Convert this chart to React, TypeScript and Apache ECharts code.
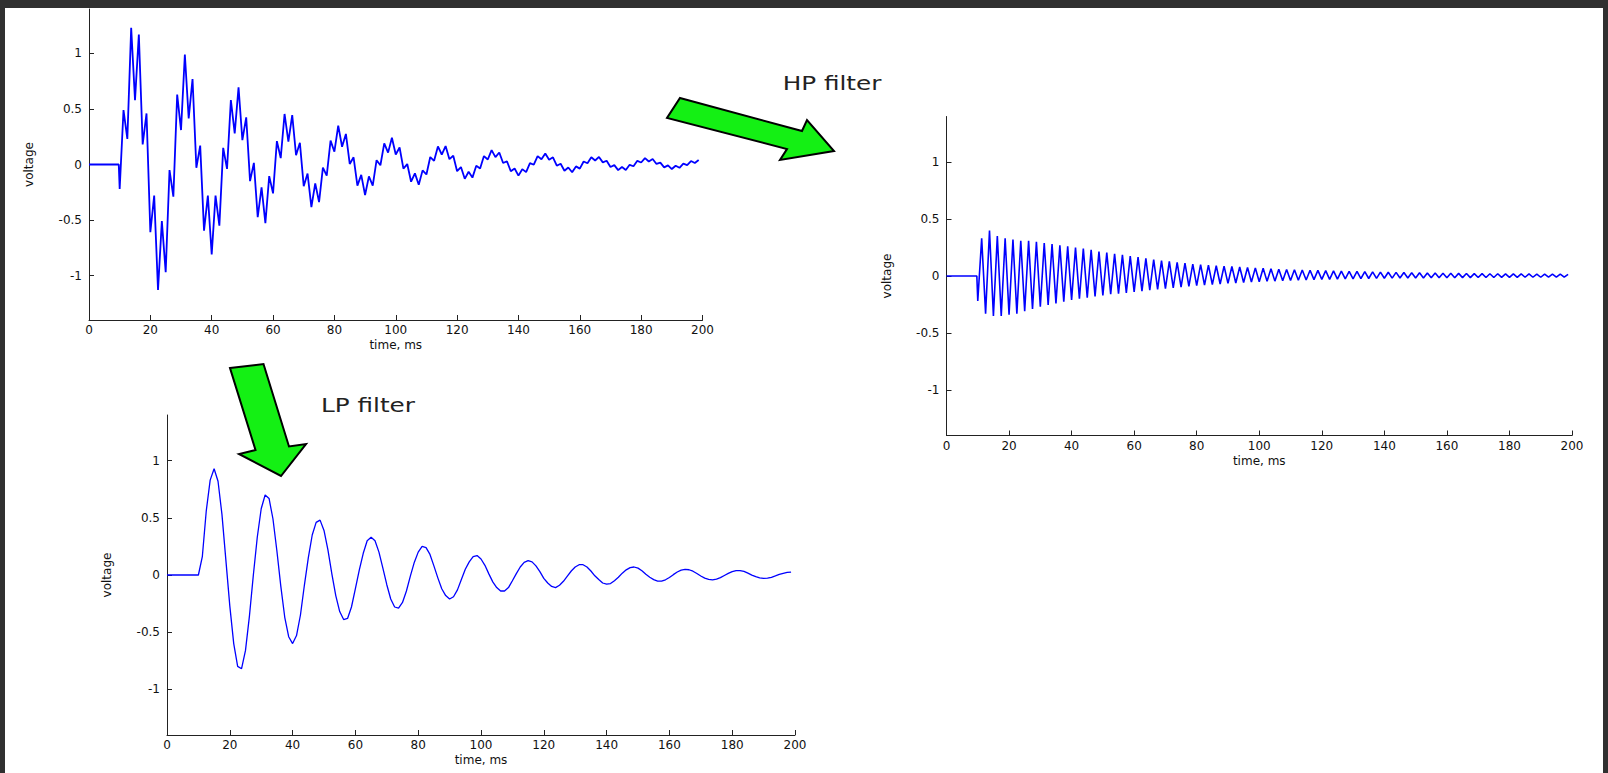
import React, { useEffect, useRef } from "react";
import * as echarts from "echarts";

// ---- data ----
const signalStartMs = 10; // signal begins at t = 10 ms
const sampleStepMs = 1.25; // one half-period of the high-frequency part

const xTickLabels = [0, 20, 40, 60, 80, 100, 120, 140, 160, 180, 200];
const yTickLabels = [-1, -0.5, 0, 0.5, 1];

// Low-pass filtered signal (values every 1.25 ms from t = 10 ms)
const lpValues = [
  0, 0.16, 0.56, 0.83, 0.93, 0.82, 0.53, 0.13, -0.27, -0.6, -0.8, -0.82, -0.66, -0.36, 0.0, 0.33,
  0.58, 0.7, 0.67, 0.49, 0.21, -0.1, -0.37, -0.54, -0.6, -0.53, -0.35, -0.09, 0.15, 0.35, 0.46, 0.48,
  0.39, 0.22, 0.01, -0.18, -0.32, -0.39, -0.38, -0.28, -0.12, 0.045, 0.19, 0.3, 0.33, 0.3, 0.2, 0.06,
  -0.085, -0.21, -0.28, -0.29, -0.24, -0.14, -0.01, 0.11, 0.2, 0.25, 0.24, 0.18, 0.08, -0.025, -0.12,
  -0.18, -0.21, -0.19, -0.13, -0.04, 0.05, 0.115, 0.16, 0.17, 0.14, 0.085, 0.01, -0.06, -0.11, -0.14,
  -0.14, -0.11, -0.05, 0.012, 0.07, 0.11, 0.125, 0.115, 0.08, 0.03, -0.03, -0.07, -0.1, -0.11, -0.09,
  -0.055, -0.01, 0.035, 0.07, 0.09, 0.09, 0.07, 0.035, -0.007, -0.04, -0.07, -0.08, -0.075, -0.05,
  -0.02, 0.016, 0.045, 0.065, 0.07, 0.06, 0.037, 0.006, -0.02, -0.04, -0.053, -0.054, -0.042, -0.022,
  0.003, 0.026, 0.042, 0.05, 0.046, 0.033, 0.013, -0.009, -0.027, -0.038, -0.042, -0.036, -0.023,
  -0.004, 0.014, 0.03, 0.039, 0.039, 0.031, 0.016, -0.001, -0.015, -0.025, -0.03, -0.028, -0.02,
  -0.008, 0.005, 0.015, 0.023, 0.025,
];

// High-pass filtered signal: troughs (t = 10, 12.5, ...) and peaks (t = 11.25, 13.75, ...)
const hpTroughs = [
  -0.22, -0.33, -0.35, -0.35, -0.34, -0.33, -0.31, -0.29, -0.27, -0.255, -0.24, -0.225, -0.21, -0.2,
  -0.19, -0.18, -0.17, -0.16, -0.155, -0.148, -0.14, -0.132, -0.125, -0.117, -0.11, -0.104, -0.098,
  -0.091, -0.085, -0.08, -0.075, -0.07, -0.065, -0.061, -0.057, -0.053, -0.05, -0.047, -0.045, -0.042,
  -0.04, -0.037, -0.035, -0.032, -0.03, -0.029, -0.028, -0.026, -0.025, -0.024, -0.022, -0.021, -0.02,
  -0.019, -0.018, -0.018, -0.017, -0.017, -0.016, -0.016, -0.015, -0.015, -0.014, -0.014, -0.013,
  -0.013, -0.013, -0.012, -0.012, -0.012, -0.011, -0.011, -0.011, -0.01, -0.01, -0.01,
];
const hpPeaks = [
  0.33, 0.4, 0.35, 0.33, 0.32, 0.31, 0.31, 0.3, 0.29, 0.28, 0.27, 0.26, 0.25, 0.24, 0.23, 0.215, 0.205,
  0.195, 0.185, 0.175, 0.165, 0.155, 0.145, 0.135, 0.128, 0.12, 0.112, 0.105, 0.1, 0.095, 0.09, 0.087,
  0.083, 0.079, 0.075, 0.071, 0.068, 0.064, 0.06, 0.057, 0.055, 0.053, 0.051, 0.049, 0.047, 0.045,
  0.043, 0.041, 0.04, 0.038, 0.036, 0.034, 0.033, 0.032, 0.03, 0.029, 0.028, 0.027, 0.026, 0.025, 0.024,
  0.023, 0.022, 0.021, 0.021, 0.02, 0.02, 0.019, 0.019, 0.018, 0.018, 0.017, 0.017, 0.016, 0.016, 0.015,
];

// ---- build series ----
const n = Math.min(lpValues.length, hpTroughs.length * 2, hpPeaks.length * 2);
const hpValues: number[] = [];
for (let i = 0; i < n; i++) hpValues.push(i % 2 === 0 ? hpTroughs[i / 2] : hpPeaks[(i - 1) / 2]);
const timeAt = (i: number) => signalStartMs + i * sampleStepMs;
const lead = [
  [0, 0],
  [signalStartMs - 0.3, 0],
];
const lpData = [[0, 0], ...lpValues.slice(0, n).map((v, i) => [timeAt(i), v])];
const hpData = [...lead, ...hpValues.map((v, i) => [timeAt(i), v])];
const rawData = [...lead, ...hpValues.map((v, i) => [timeAt(i), +(v + lpValues[i]).toFixed(4)])];

const FONT = "DejaVu Sans";
const TITLE_FONT = "DejaVu Sans";

const grids = [
  { left: 89, top: 9, width: 613.5, height: 311 },
  { left: 946.5, top: 116.5, width: 625.5, height: 319 },
  { left: 167, top: 415, width: 628, height: 320 },
];

function makeX(gridIndex: number) {
  return {
    type: "value",
    gridIndex,
    min: xTickLabels[0],
    max: xTickLabels[xTickLabels.length - 1],
    interval: 20,
    name: "time, ms",
    nameLocation: "middle",
    nameGap: 19,
    nameTextStyle: { fontFamily: FONT, fontSize: 12, color: "#111" },
    axisLine: { show: true, onZero: false, lineStyle: { color: "#222", width: 1 } },
    axisTick: { show: true, inside: true, length: 5, lineStyle: { color: "#222" } },
    axisLabel: { fontFamily: FONT, fontSize: 12, color: "#111", margin: 4 },
    splitLine: { show: false },
  };
}
function makeY(gridIndex: number) {
  return {
    type: "value",
    gridIndex,
    min: -1.4,
    max: 1.4,
    name: "voltage",
    nameLocation: "middle",
    nameGap: 54,
    nameTextStyle: { fontFamily: FONT, fontSize: 12, color: "#111" },
    axisLine: { show: true, onZero: false, lineStyle: { color: "#222", width: 1 } },
    axisTick: { show: true, inside: true, length: 5, lineStyle: { color: "#222" }, customValues: yTickLabels },
    axisLabel: { fontFamily: FONT, fontSize: 12, color: "#111", margin: 7, customValues: yTickLabels },
    splitLine: { show: false },
  };
}

const arrowStyle = { fill: "#14f014", stroke: "#000", lineWidth: 2, lineJoin: "miter" };

export default function App() {
  const ref = useRef<HTMLDivElement>(null);
  useEffect(() => {
    if (!ref.current) return;
    const chart = echarts.init(ref.current, undefined, { renderer: "svg" });
    chart.setOption({
      animation: false,
      backgroundColor: "#303030",
      grid: grids,
      xAxis: [makeX(0), makeX(1), makeX(2)],
      yAxis: [makeY(0), makeY(1), makeY(2)],
      series: [
        {
          type: "line",
          xAxisIndex: 0,
          yAxisIndex: 0,
          data: rawData,
          showSymbol: false,
          lineStyle: { color: "#0000ff", width: 1.8 },
          z: 3,
        },
        {
          type: "line",
          xAxisIndex: 1,
          yAxisIndex: 1,
          data: hpData,
          showSymbol: false,
          lineStyle: { color: "#0000ff", width: 1.6 },
          z: 3,
        },
        {
          type: "line",
          xAxisIndex: 2,
          yAxisIndex: 2,
          data: lpData,
          showSymbol: false,
          lineStyle: { color: "#0000ff", width: 1.3 },
          z: 3,
        },
      ],
      graphic: [
        { type: "rect", z: -10, shape: { x: 5, y: 8, width: 1598, height: 770 }, style: { fill: "#ffffff" } },
        {
          type: "polygon",
          shape: {
            points: [
              [680, 98],
              [802, 131],
              [807, 120],
              [834, 151],
              [780, 160],
              [787, 149],
              [667, 118],
            ],
          },
          style: arrowStyle,
        },
        {
          type: "polygon",
          shape: {
            points: [
              [230, 368],
              [263.5, 364],
              [289, 446.5],
              [306, 444],
              [281, 476],
              [239, 454],
              [255.5, 450],
            ],
          },
          style: arrowStyle,
        },
        {
          type: "text",
          x: 832,
          y: 84,
          scaleX: 1.3,
          style: { text: "HP filter", fontFamily: TITLE_FONT, fontSize: 19, fill: "#222", align: "center", verticalAlign: "middle" },
        },
        {
          type: "text",
          x: 368,
          y: 406,
          scaleX: 1.3,
          style: { text: "LP filter", fontFamily: TITLE_FONT, fontSize: 19, fill: "#222", align: "center", verticalAlign: "middle" },
        },
      ],
    });
    return () => chart.dispose();
  }, []);
  return <div ref={ref} style={{ position: "fixed", left: 0, top: 0, width: "1608px", height: "773px" }} />;
}
